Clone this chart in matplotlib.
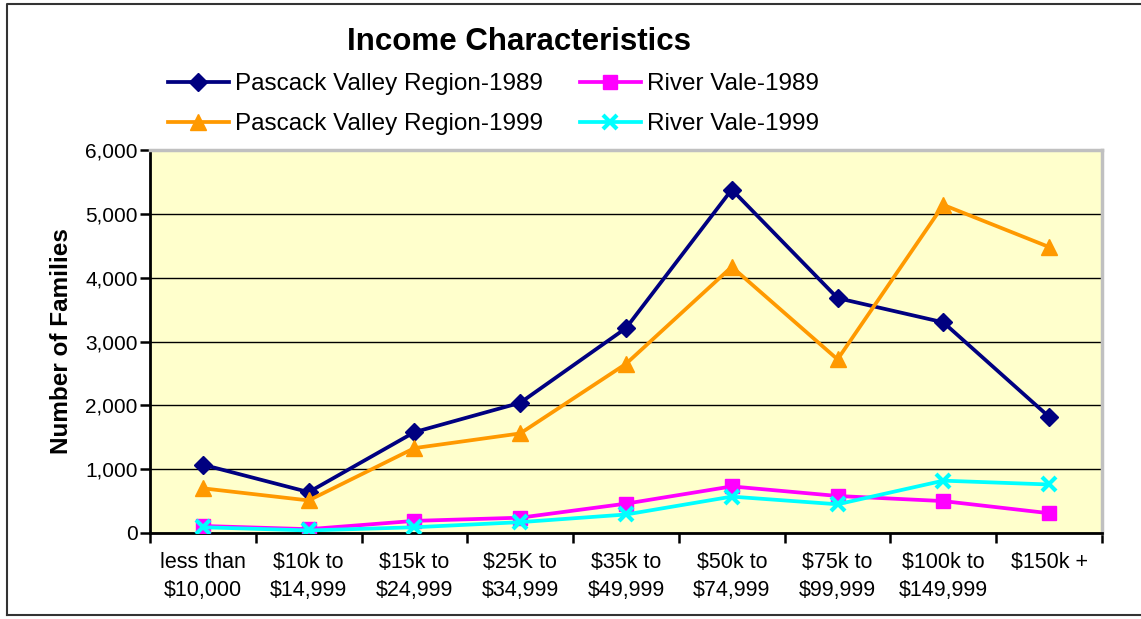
import matplotlib
matplotlib.use("Agg")
import matplotlib.pyplot as plt
from matplotlib.ticker import FuncFormatter
import matplotlib.lines as mlines

plt.rcParams['font.family'] = ['Liberation Sans', 'DejaVu Sans']

# --- data ---
categories = ['less than\n$10,000', '$10k to\n$14,999', '$15k to\n$24,999',
              '$25K to\n$34,999', '$35k to\n$49,999', '$50k to\n$74,999',
              '$75k to\n$99,999', '$100k to\n$149,999', '$150k +']
pv_1989 = [1070, 640, 1580, 2040, 3210, 5380, 3680, 3300, 1820]
pv_1999 = [700, 510, 1330, 1560, 2650, 4170, 2720, 5140, 4480]
rv_1989 = [110, 60, 190, 240, 460, 730, 580, 500, 310]
rv_1999 = [90, 40, 90, 170, 290, 570, 450, 820, 760]

W, H = 1141, 619
fig = plt.figure(figsize=(W / 100, H / 100), dpi=100)
fig.patch.set_facecolor('white')

# outer frame of the chart object (left, top, bottom)
fig.add_artist(mlines.Line2D([7/W, 7/W, 1.0], [1 - 615/H, 1 - 4/H, 1 - 4/H],
                             color='#333333', lw=1.5, transform=fig.transFigure))
fig.add_artist(mlines.Line2D([7/W, 1.0], [1 - 615/H, 1 - 615/H],
                             color='#333333', lw=1.5, transform=fig.transFigure))

ax = fig.add_axes([150/W, 86/H, 952/W, 383/H])
ax.set_facecolor('#FFFFCC')

x = list(range(len(categories)))
lw = 2.7
h1, = ax.plot(x, pv_1989, color='#000080', lw=lw, marker='D', ms=9, label='Pascack Valley Region-1989', zorder=3)
h2, = ax.plot(x, pv_1999, color='#FF9900', lw=lw, marker='^', ms=12, label='Pascack Valley Region-1999', zorder=3)
h3, = ax.plot(x, rv_1989, color='#FF00FF', lw=lw, marker='s', ms=10, label='River Vale-1989', zorder=3)
h4, = ax.plot(x, rv_1999, color='#00FFFF', lw=lw, marker='x', ms=10, mew=3, label='River Vale-1999', zorder=4)

ax.set_xlim(-0.5, len(categories) - 0.5)
ax.set_ylim(0, 6000)
ax.set_yticks(range(0, 6001, 1000))
ax.yaxis.set_major_formatter(FuncFormatter(lambda v, p: f'{int(v):,}'))
ax.grid(axis='y', color='black', lw=1)
ax.set_axisbelow(True)

# categories centred between boundary ticks
ax.set_xticks([i + 0.5 for i in range(-1, len(categories))])
ax.set_xticklabels([])
ax.set_xticks(x, minor=True)
ax.set_xticklabels(categories, minor=True, fontsize=15.5, linespacing=1.4)
ax.tick_params(axis='x', which='minor', length=0, pad=14)
ax.tick_params(axis='x', which='major', length=7, width=1.8, direction='out')
ax.tick_params(axis='y', length=7, width=1.8, direction='out', labelsize=15, pad=2)

for s in ['left', 'bottom']:
    ax.spines[s].set_color('black')
    ax.spines[s].set_linewidth(2)
for s in ['top', 'right']:
    ax.spines[s].set_color('#C0C0C0')
    ax.spines[s].set_linewidth(2.5)

ax.set_ylabel('Number of Families', fontsize=17.5, fontweight='bold', labelpad=9)

fig.text(519/W, 1 - 42/H, 'Income Characteristics', fontsize=22.5, fontweight='bold',
         ha='center', va='center')

leg_kw = dict(loc='upper left', frameon=False, fontsize=17.5, handlelength=2.5,
              handletextpad=0.25, labelspacing=0.75, borderaxespad=0, borderpad=0)
leg1 = fig.legend(handles=[h1, h2], bbox_to_anchor=(168/W, 1 - 73/H), **leg_kw)
leg2 = fig.legend(handles=[h3, h4], bbox_to_anchor=(580/W, 1 - 73/H), **leg_kw)

fig.savefig('out.png', dpi=100)
